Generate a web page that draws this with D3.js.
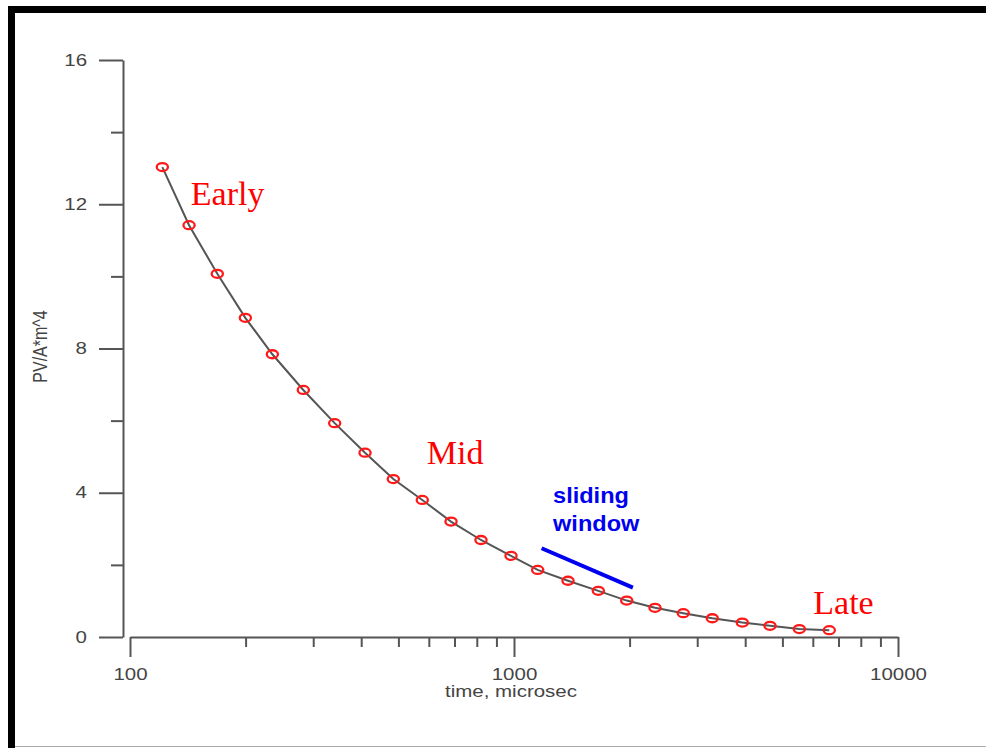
<!DOCTYPE html>
<html>
<head>
<meta charset="utf-8">
<script src="https://cdn.jsdelivr.net/npm/d3@7"></script>
<style>
  body { margin: 0; background: #fff; }
  svg { display: block; }
</style>
</head>
<body>
<svg width="986" height="748"></svg>
<script>
// Data
const times = [121.4, 142.5, 168.8, 199.7, 234.8, 282.7, 341.2, 409.3, 485.0, 577.0, 685.5, 820.4,
               982.2, 1152.6, 1382.4, 1658, 1966, 2329, 2760, 3284, 3932, 4642, 5535, 6623];
const pv = [13.03, 11.42, 10.07, 8.85, 7.84, 6.85, 5.93, 5.11, 4.38, 3.80, 3.20, 2.69,
            2.25, 1.86, 1.56, 1.28, 1.01, 0.81, 0.66, 0.52, 0.40, 0.31, 0.22, 0.19];

const xMajor = [100, 1000, 10000];
const xMinor = [200, 300, 400, 500, 600, 700, 800, 900, 2000, 3000, 4000, 5000, 6000, 7000, 8000, 9000];
const yMajor = [0, 4, 8, 12, 16];
const yMinor = [2, 6, 10, 14];

// annotations, in data units
const phaseLabels = ["Early", "Mid", "Late"];
const phaseT = [144, 593, 6017];
const phaseV = [11.98, 4.80, 0.64];
const windowLines = ["sliding", "window"];
const windowT = 1264;
const windowV = [3.72, 2.94];
const windowSeg = [[1180, 2.46], [2040, 1.37]];

const svg = d3.select("svg");
const sx = 1.28; // picture is stretched sideways

// frame
svg.append("rect").attr("x", 8).attr("y", 6).attr("width", 978).attr("height", 7).attr("fill", "#000");
svg.append("rect").attr("x", 8).attr("y", 6).attr("width", 7).attr("height", 742).attr("fill", "#000");
svg.append("line").attr("x1", 15).attr("x2", 986).attr("y1", 746.5).attr("y2", 746.5)
    .attr("stroke", "#aaa").attr("stroke-width", 1);

// scales
const x = d3.scaleLog().domain([100, 10000]).range([130, 898]);
const y = d3.scaleLinear().domain([0, 16]).range([637, 60]);

const axisColor = "#555";
const font = "'Liberation Sans', Arial, sans-serif";

function styleAxis(g) {
    g.selectAll("path, line").attr("stroke", axisColor).attr("stroke-width", 2);
    g.selectAll("text").attr("fill", "#444").style("font-family", font).style("font-size", "16px");
}

// x axis
const gxMinor = svg.append("g").attr("transform", "translate(0,637)")
    .call(d3.axisBottom(x).tickValues(xMinor).tickSize(10).tickSizeOuter(0).tickFormat(""));
gxMinor.select(".domain").remove();
styleAxis(gxMinor);

const gx = svg.append("g").attr("transform", "translate(0,637)")
    .call(d3.axisBottom(x).tickValues(xMajor).tickSize(20).tickSizeOuter(0)
        .tickPadding(12).tickFormat(d3.format("d")));
styleAxis(gx);
gx.selectAll("text").attr("transform", `scale(${sx},1)`);

// y axis
const gyMinor = svg.append("g").attr("transform", "translate(123,0)")
    .call(d3.axisLeft(y).tickValues(yMinor).tickSize(12).tickSizeOuter(0).tickFormat(""));
gyMinor.select(".domain").remove();
styleAxis(gyMinor);

const gy = svg.append("g").attr("transform", "translate(123,0)")
    .call(d3.axisLeft(y).tickValues(yMajor).tickSize(24).tickSizeOuter(0).tickFormat(d3.format("d")));
styleAxis(gy);
gy.selectAll("text").attr("x", -36 / sx).attr("transform", `scale(${sx},1)`);

// axis titles
svg.append("text")
    .attr("transform", `translate(511,697) scale(${sx},1)`)
    .attr("text-anchor", "middle")
    .attr("fill", "#444")
    .style("font-family", font).style("font-size", "16px")
    .text("time, microsec");

svg.append("text")
    .attr("transform", `translate(47,346.5) scale(${sx},1) rotate(-90)`)
    .attr("text-anchor", "middle")
    .attr("fill", "#444")
    .style("font-family", font).style("font-size", "16px")
    .text("PV/A*m^4");

// curve and markers
const pts = times.map((t, i) => [t, pv[i]]);
svg.append("path")
    .datum(pts)
    .attr("d", d3.line().x(d => x(d[0])).y(d => y(d[1])))
    .attr("fill", "none")
    .attr("stroke", "#555")
    .attr("stroke-width", 2);

svg.selectAll("ellipse.pt")
    .data(pts)
    .join("ellipse")
    .attr("class", "pt")
    .attr("cx", d => x(d[0]))
    .attr("cy", d => y(d[1]))
    .attr("rx", 5.6)
    .attr("ry", 4)
    .attr("fill", "none")
    .attr("stroke", "#ff1a1a")
    .attr("stroke-width", 2.3);

// phase labels
svg.selectAll("text.phase")
    .data(phaseLabels)
    .join("text")
    .attr("class", "phase")
    .attr("x", (d, i) => x(phaseT[i]))
    .attr("y", (d, i) => y(phaseV[i]))
    .attr("fill", "#ff0000")
    .style("font-family", "'Liberation Serif', 'Times New Roman', serif")
    .style("font-size", "34px")
    .text(d => d);

// sliding window note
svg.selectAll("text.win")
    .data(windowLines)
    .join("text")
    .attr("class", "win")
    .attr("transform", (d, i) => `translate(${x(windowT)},${y(windowV[i])}) scale(1.07,1)`)
    .attr("fill", "#0000f0")
    .style("font-family", font)
    .style("font-weight", "bold")
    .style("font-size", "22px")
    .text(d => d);

svg.append("path")
    .datum(windowSeg)
    .attr("d", d3.line().x(d => x(d[0])).y(d => y(d[1])))
    .attr("stroke", "#0000f0")
    .attr("stroke-width", 4);
</script>
</body>
</html>
